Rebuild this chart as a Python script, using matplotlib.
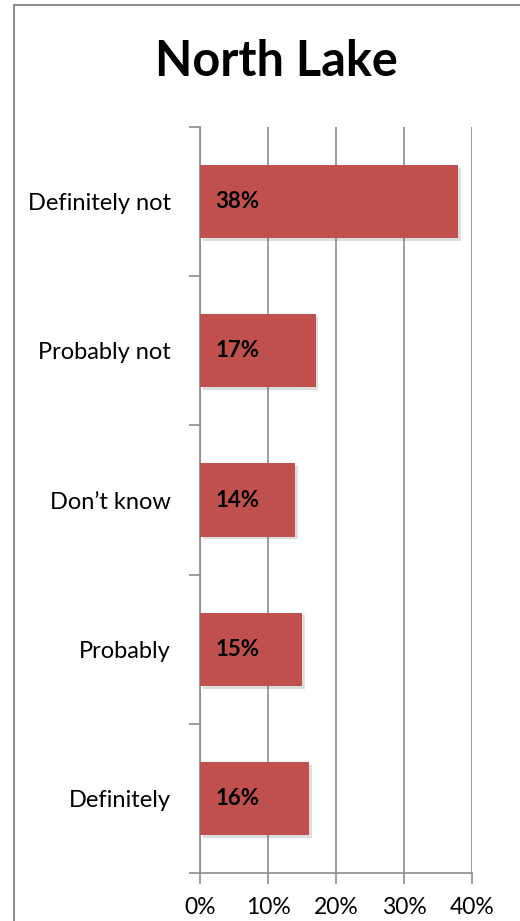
import matplotlib.pyplot as plt
import matplotlib.patheffects as pe
from matplotlib.patches import Rectangle
import numpy as np

# Data (top to bottom)
categories = ['Definitely not', 'Probably not', 'Don\u2019t know', 'Probably', 'Definitely']
values = [38, 17, 14, 15, 16]
x_ticks = [0, 10, 20, 30, 40]
x_tick_labels = ['0%', '10%', '20%', '30%', '40%']

plt.rcParams['font.family'] = ['Lato', 'DejaVu Sans']

fig = plt.figure(figsize=(5.2, 9.21), dpi=100)

# outer chart border
fig.patches.append(Rectangle((14 / 520, -0.01), 1.0, 1 - 5 / 921 + 0.01,
                             transform=fig.transFigure, fill=False,
                             edgecolor='#8c8c8c', linewidth=1.5))

ax = fig.add_axes([200 / 520, 1 - 873 / 921, 272 / 520, 746 / 921])

y_pos = np.arange(len(categories))
bars = ax.barh(y_pos, values, height=0.49, color='#C0504D', edgecolor='none',
               zorder=3)
for b in bars:
    b.set_path_effects([pe.SimplePatchShadow(offset=(2, -2), alpha=0.2,
                                             shadow_rgbFace='#555555'),
                        pe.Normal()])

for yi, v in zip(y_pos, values):
    ax.text(2.3, yi, f'{v}%', va='center', ha='left', fontsize=16,
            fontweight='bold', color='black', zorder=4)

ax.set_xlim(0, 40)
ax.set_ylim(len(categories) - 0.5, -0.5)
ax.set_xticks(x_ticks)
ax.set_xticklabels(x_tick_labels, fontsize=16.5)
ax.set_yticks(y_pos)
ax.set_yticklabels(categories, fontsize=17)
ax.tick_params(axis='y', length=0, pad=21)
ax.tick_params(axis='x', length=8, color='#8c8c8c', width=1.2, pad=9)

# category boundary tick marks on the value axis
ax.set_yticks(np.arange(-0.5, len(categories), 1.0), minor=True)
ax.tick_params(axis='y', which='minor', length=8, color='#8c8c8c', width=1.2)

ax.xaxis.grid(True, color='#8c8c8c', linewidth=1.2, zorder=0)
ax.set_axisbelow(True)
for side in ['top', 'right']:
    ax.spines[side].set_visible(False)
for side in ['left', 'bottom']:
    ax.spines[side].set_color('#8c8c8c')
    ax.spines[side].set_linewidth(1.2)

fig.text(276 / 520, 1 - 62 / 921, 'North Lake', ha='center', va='center',
         fontsize=35, fontweight='bold')

fig.savefig('out.png', dpi=100)
